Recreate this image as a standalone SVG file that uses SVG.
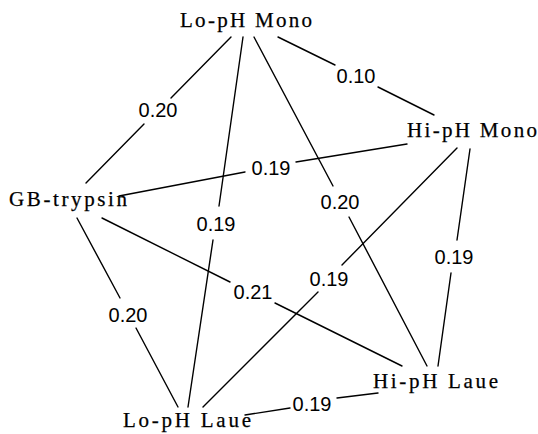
<svg xmlns="http://www.w3.org/2000/svg" width="538" height="434" viewBox="0 0 538 434">
  <style>
    .bg { fill: #ffffff; }
    .edge { stroke: #000; stroke-width: 1.4; fill: none; stroke-linecap: round; }
    .node { font-family: "Liberation Serif", "DejaVu Serif", serif; font-size: 21px; fill: #000; stroke: #000; stroke-width: 0.25; }
    .w { font-family: "Liberation Sans", Arial, sans-serif; font-size: 20px; fill: #000; text-anchor: middle; }
  </style>
  <rect class="bg" x="0" y="0" width="538" height="434"/>

  <!-- connectors, each broken around its weight label -->
  <g id="connectors">
    <g id="e-lomono-gb">
      <line class="edge" x1="231" y1="37" x2="171" y2="98"/>
      <line class="edge" x1="144" y1="124" x2="86" y2="183"/>
      <text class="w" x="158" y="117">0.20</text>
    </g>
    <g id="e-lomono-himono">
      <line class="edge" x1="278" y1="37" x2="335" y2="65"/>
      <line class="edge" x1="378" y1="87" x2="434" y2="115"/>
      <text class="w" x="356" y="83">0.10</text>
    </g>
    <g id="e-lomono-lolaue">
      <line class="edge" x1="243" y1="37" x2="219" y2="206"/>
      <line class="edge" x1="213" y1="240" x2="188" y2="407"/>
      <text class="w" x="216" y="231">0.19</text>
    </g>
    <g id="e-lomono-hilaue">
      <line class="edge" x1="254" y1="37" x2="333" y2="186"/>
      <line class="edge" x1="349" y1="217" x2="427" y2="366"/>
      <text class="w" x="340" y="209">0.20</text>
    </g>
    <g id="e-gb-himono">
      <line class="edge" x1="119" y1="196" x2="245" y2="172"/>
      <line class="edge" x1="296" y1="162" x2="407" y2="144"/>
      <text class="w" x="271" y="175">0.19</text>
    </g>
    <g id="e-gb-lolaue">
      <line class="edge" x1="77" y1="218" x2="120" y2="298"/>
      <line class="edge" x1="136" y1="328" x2="178" y2="407"/>
      <text class="w" x="128" y="322">0.20</text>
    </g>
    <g id="e-gb-hilaue">
      <line class="edge" x1="102" y1="218" x2="230" y2="282"/>
      <line class="edge" x1="275" y1="303" x2="402" y2="366"/>
      <text class="w" x="253" y="299">0.21</text>
    </g>
    <g id="e-himono-lolaue">
      <line class="edge" x1="457" y1="148" x2="342" y2="265"/>
      <line class="edge" x1="318" y1="292" x2="203" y2="407"/>
      <text class="w" x="329" y="286">0.19</text>
    </g>
    <g id="e-himono-hilaue">
      <line class="edge" x1="470" y1="149" x2="457" y2="240"/>
      <line class="edge" x1="451" y1="273" x2="438" y2="366"/>
      <text class="w" x="454" y="264">0.19</text>
    </g>
    <g id="e-lolaue-hilaue">
      <line class="edge" x1="245" y1="415" x2="290" y2="408"/>
      <line class="edge" x1="337" y1="398" x2="378" y2="393"/>
      <text class="w" x="312" y="411">0.19</text>
    </g>
  </g>

  <!-- nodes -->
  <g id="lo-ph-mono">
    <text class="node" x="180" y="27" textLength="132" lengthAdjust="spacing">Lo-pH Mono</text>
  </g>
  <g id="hi-ph-mono">
    <text class="node" x="407" y="137" textLength="130" lengthAdjust="spacing">Hi-pH Mono</text>
  </g>
  <g id="gb-trypsin">
    <text class="node" x="9" y="206" textLength="118" lengthAdjust="spacing">GB-trypsin</text>
  </g>
  <g id="lo-ph-laue">
    <text class="node" x="123" y="427" textLength="128" lengthAdjust="spacing">Lo-pH Laue</text>
  </g>
  <g id="hi-ph-laue">
    <text class="node" x="373" y="388" textLength="125" lengthAdjust="spacing">Hi-pH Laue</text>
  </g>
</svg>
